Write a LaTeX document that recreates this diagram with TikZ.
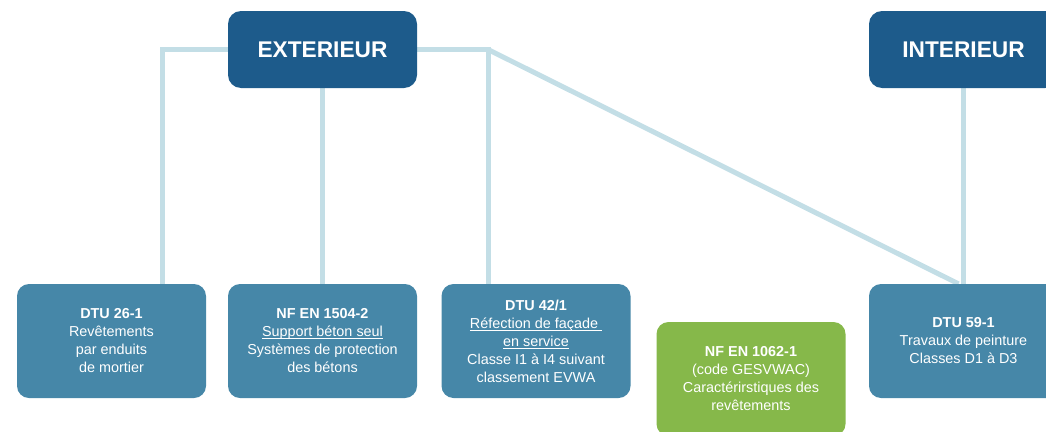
\documentclass[tikz,border=0pt]{standalone}
\usepackage{fontspec}
\setmainfont{Liberation Sans}
\setsansfont{Liberation Sans}
\definecolor{darkb}{HTML}{1D5B8B}
\definecolor{midb}{HTML}{4687A8}
\definecolor{greenb}{HTML}{86B84A}
\definecolor{linec}{HTML}{C3DEE6}
\pgfdeclarelayer{bg}
\pgfsetlayers{bg,main}
\newsavebox{\ulbox}
\newcommand{\ulin}[1]{\sbox{\ulbox}{#1}\rlap{\rule[-2.2pt]{\wd\ulbox}{0.8pt}}\usebox{\ulbox}}
\tikzset{
  titlebox/.style={fill=darkb, rounded corners=13pt, minimum width=189pt, minimum height=77pt,
    text=white, font=\fontsize{22.7}{26}\selectfont\bfseries, inner sep=0pt},
  itembox/.style={fill=midb, rounded corners=12pt, minimum width=189pt, minimum height=114pt,
    text=white, font=\fontsize{14.4}{18}\selectfont, align=center, inner sep=0pt},
  greenbox/.style={itembox, fill=greenb},
  link/.style={draw=linec, line width=5pt}
}
\begin{document}
\begin{tikzpicture}[x=1pt,y=-1pt]
\useasboundingbox (0,0) rectangle (1046,431);
\clip (0,0) rectangle (1046,431);
\node[titlebox] (ext) at (322.5,49.5) {EXTERIEUR};
\node[titlebox] (int) at (963.5,49.5) {INTERIEUR};
\node[itembox] (b1) at (111.5,341) {\textbf{DTU 26-1}\\Revêtements\\par enduits\\de mortier};
\node[itembox] (b2) at (322.5,341) {\textbf{NF EN 1504-2}\\\ulin{Support béton seul}\\Systèmes de protection\\des bétons};
\node[itembox] (b3) at (536,341) {\textbf{DTU 42/1}\\\ulin{Réfection de façade\ }\\\ulin{en service}\\Classe I1 à I4 suivant\\classement EVWA};
\node[greenbox] (g) at (751,379) {\textbf{NF EN 1062-1}\\(code GESVWAC)\\Caractérirstiques des\\revêtements};
\node[itembox] (b5) at (963.5,341) {\textbf{DTU 59-1}\\Travaux de peinture\\Classes D1 à D3};
\coordinate (jl) at (162,49.5);
\coordinate (jr) at (488,49.5);
\begin{pgfonlayer}{bg}
\draw[link] (ext.west) -- (jl) -- (jl |- b1.north);
\draw[link] (ext.south) -- (b2.north);
\draw[link] (ext.east) -- (jr) -- (jr |- b3.north);
\draw[link] (jr) -- ([xshift=-5pt]b5.north);
\draw[link] (int.south) -- (b5.north);
\end{pgfonlayer}
\end{tikzpicture}
\end{document}
